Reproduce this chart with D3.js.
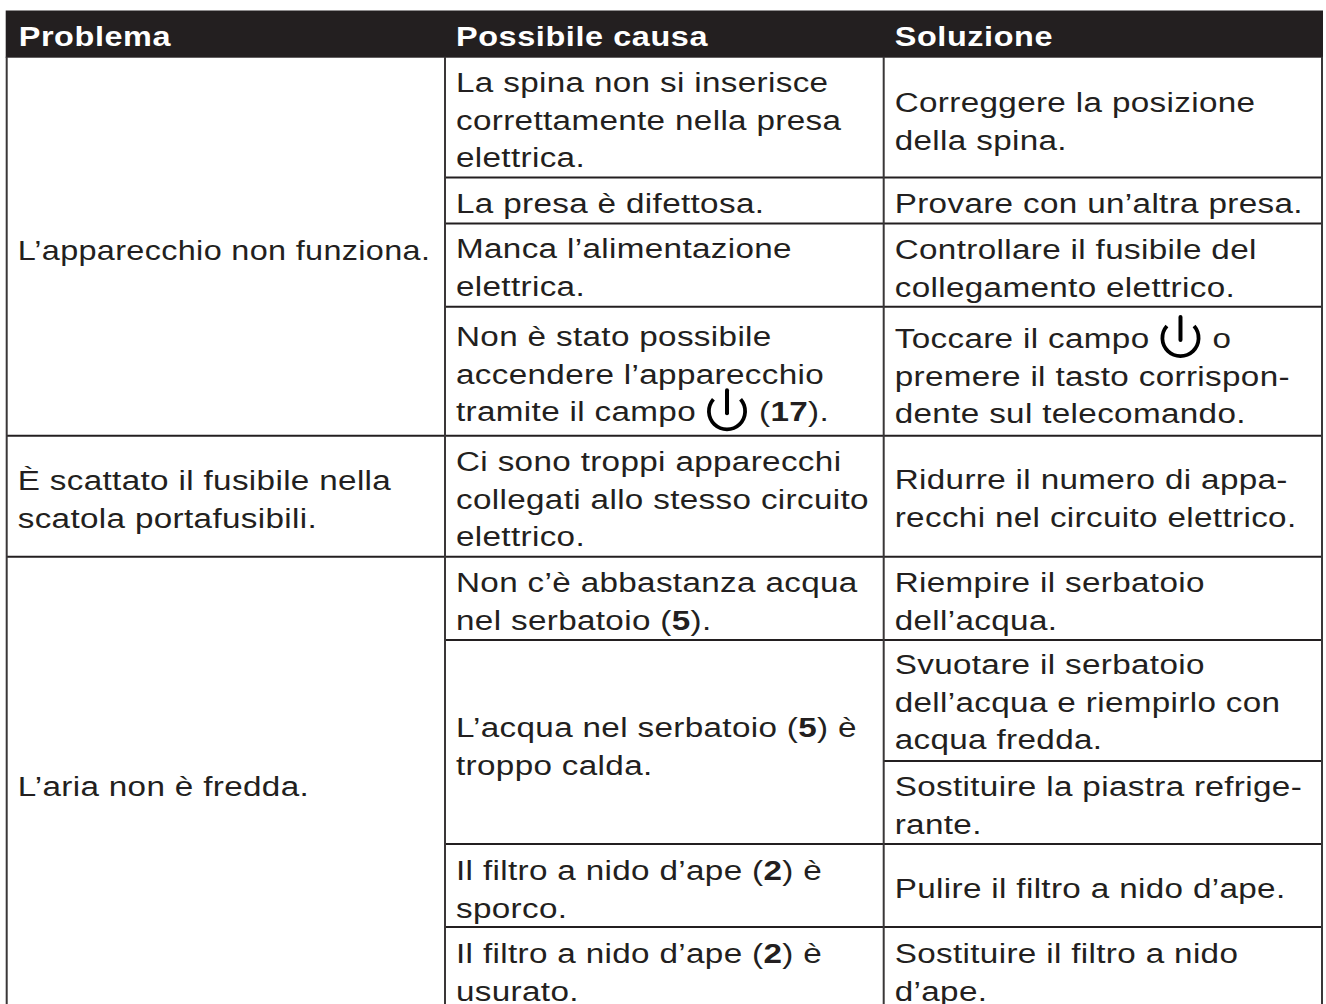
<!DOCTYPE html>
<html><head><meta charset="utf-8">
<script src="https://cdn.jsdelivr.net/npm/d3@7"></script>
<style>html,body{margin:0;padding:0;background:#fff}svg{display:block}</style>
</head><body><div id="c"></div>
<script>
const headers = ["Problema","Possibile causa","Soluzione"];
// "*x*" is bold, "@" is the power symbol
const problems = [
  {e:[0,4], lines:["L’apparecchio non funziona."]},
  {e:[4,5], lines:["È scattato il fusibile nella","scatola portafusibili."]},
  {e:[5,10], lines:["L’aria non è fredda."]}
];
const causes = [
  {e:[0,1], lines:["La spina non si inserisce","correttamente nella presa","elettrica."]},
  {e:[1,2], lines:["La presa è difettosa."]},
  {e:[2,3], lines:["Manca l’alimentazione","elettrica."]},
  {e:[3,4], lines:["Non è stato possibile","accendere l’apparecchio","tramite il campo@(*17*)."]},
  {e:[4,5], lines:["Ci sono troppi apparecchi","collegati allo stesso circuito","elettrico."]},
  {e:[5,6], lines:["Non c’è abbastanza acqua","nel serbatoio (*5*)."]},
  {e:[6,8], lines:["L’acqua nel serbatoio (*5*) è","troppo calda."]},
  {e:[8,9], lines:["Il filtro a nido d’ape (*2*) è","sporco."]},
  {e:[9,10], lines:["Il filtro a nido d’ape (*2*) è","usurato."]}
];
const solutions = [
  {e:[0,1], lines:["Correggere la posizione","della spina."]},
  {e:[1,2], lines:["Provare con un’altra presa."]},
  {e:[2,3], lines:["Controllare il fusibile del","collegamento elettrico."]},
  {e:[3,4], lines:["Toccare il campo@o","premere il tasto corrispon-","dente sul telecomando."]},
  {e:[4,5], lines:["Ridurre il numero di appa-","recchi nel circuito elettrico."]},
  {e:[5,6], lines:["Riempire il serbatoio","dell’acqua."]},
  {e:[6,7], lines:["Svuotare il serbatoio","dell’acqua e riempirlo con","acqua fredda."]},
  {e:[7,8], lines:["Sostituire la piastra refrige-","rante."]},
  {e:[8,9], lines:["Pulire il filtro a nido d’ape."]},
  {e:[9,10], lines:["Sostituire il filtro a nido","d’ape."]}
];
// layout, kept apart from the text
const rowEdges = [56.7,177.5,223.5,306.7,435.7,556.7,640,761,844,927,1006];
const colEdges = [6.7,445,883.7,1322];
const firstBaselines = [
  [260,490,796],
  [92,213,258,346,471,592,737,880,963],
  [112,213,259,348,489,592,674,796,898,963]
];

const W=1326,H=1004,LH=37.6,FS=28.4,LS=0.3,SX=1.17,INK="#231f20",PAD=11;
const tighter = {"L’apparecchio non funziona.":0.975};
const svg=d3.select("#c").append("svg").attr("width",W).attr("height",H)
  .attr("font-family","'Liberation Sans',Arial,sans-serif");
const yEdge=d3.scaleLinear().domain(d3.range(rowEdges.length)).range(rowEdges);
const xCol=d3.scaleLinear().domain(d3.range(colEdges.length)).range(colEdges);

svg.append("rect").attr("x",xCol(0)-1).attr("y",10.5).attr("width",xCol(3)-xCol(0)+2).attr("height",yEdge(0)-9.5).attr("fill",INK);
svg.selectAll("text.h").data(headers).join("text").attr("class","h")
  .attr("transform",(d,i)=>`translate(${xCol(i)+PAD+(i?0:1)},45.5) scale(1.2,1)`)
  .attr("fill","#fff").attr("font-weight",700)
  .attr("font-size",27).attr("letter-spacing",0.5).text(d=>d);

const cols=[problems,causes,solutions];
function powerIcon(g,cx,cy){
  const arc=d3.arc()({innerRadius:16.2,outerRadius:20,startAngle:Math.PI*0.27,endAngle:Math.PI*1.73,cornerRadius:1.9});
  g.append("path").attr("d",arc).attr("transform",`translate(${cx},${cy})`).attr("fill","#000");
  g.append("line").attr("x1",cx).attr("x2",cx).attr("y1",cy-21).attr("y2",cy+2)
    .attr("stroke","#000").attr("stroke-width",4).attr("stroke-linecap","round");
}
cols.forEach((cells,c)=>{
  const g=svg.append("g");
  g.selectAll("line.b").data(cells).join("line").attr("class","b")
    .attr("x1",xCol(c)).attr("x2",xCol(c+1)).attr("y1",d=>yEdge(d.e[1])).attr("y2",d=>yEdge(d.e[1]))
    .attr("stroke",INK).attr("stroke-width",2);
  g.append("line").attr("x1",xCol(c)).attr("x2",xCol(c)).attr("y1",yEdge(0)).attr("y2",H)
    .attr("stroke","#3a3738").attr("stroke-width",2);
  cells.forEach((cell,ci)=>{
    cell.lines.forEach((ln,i)=>{
      const base=firstBaselines[c][ci]+i*LH, x0=xCol(c)+PAD, sx=SX*(tighter[ln]||1);
      const t=g.append("text").attr("transform",`translate(${x0},${base}) scale(${sx},1)`)
        .attr("font-size",FS).attr("letter-spacing",LS).attr("fill",INK);
      let gap=0;
      ln.split(/(\*[^*]+\*|@)/).filter(s=>s.length).forEach(p=>{
        if(p==="@"){
          const end=t.node().getComputedTextLength()*sx;
          powerIcon(g,x0+end+31,base-10);
          gap=63/sx;
          return;
        }
        const bold=p[0]==="*";
        const s=t.append("tspan").text(bold?p.slice(1,-1):p);
        if(bold) s.attr("font-weight",700);
        if(gap){s.attr("dx",gap);gap=0;}
      });
    });
  });
});
svg.append("line").attr("x1",xCol(3)).attr("x2",xCol(3)).attr("y1",yEdge(0)).attr("y2",H).attr("stroke","#3a3738").attr("stroke-width",2);
</script></body></html>
